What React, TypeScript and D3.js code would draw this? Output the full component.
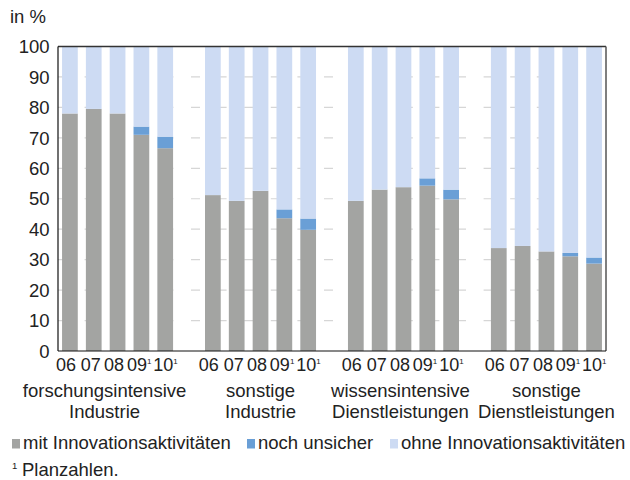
import React from "react";
import * as d3 from "d3";

const groupLabels = [
  ["forschungsintensive", "Industrie"],
  ["sonstige", "Industrie"],
  ["wissensintensive", "Dienstleistungen"],
  ["sonstige", "Dienstleistungen"],
];
const years = ["06", "07", "08", "09", "10"];
const planned = [false, false, false, true, true];

// values per group, one entry per year
const mitInnovation = [
  [78, 79.5, 78, 71, 66.6],
  [51.2, 49.3, 52.6, 43.6, 39.8],
  [49.3, 53, 53.8, 54.3, 49.8],
  [33.8, 34.5, 32.7, 31.1, 28.7],
];
const nochUnsicher = [
  [0, 0, 0, 2.7, 3.8],
  [0, 0, 0, 2.9, 3.7],
  [0, 0, 0, 2.4, 3.2],
  [0, 0, 0, 1.1, 2],
];
const ohneInnovation = [
  [22, 20.5, 22, 26.3, 29.6],
  [48.8, 50.7, 47.4, 53.5, 56.5],
  [50.7, 47, 46.2, 43.3, 47],
  [66.2, 65.5, 67.3, 67.8, 69.3],
];

const seriesKeys = ["mit", "unsicher", "ohne"];
const seriesNames = ["mit Innovationsaktivitäten", "noch unsicher", "ohne Innovationsaktivitäten"];
const colors = ["#a3a4a2", "#6a9fd6", "#cddbf3"];
const yTicks = [0, 10, 20, 30, 40, 50, 60, 70, 80, 90, 100];

const W = 630;
const H = 480;
const left = 58;
const right = 606;
const top = 46.5;
const bottom = 351;
const font = "'Liberation Sans', Arial, Helvetica, sans-serif";
const fs = 18.5;
const tickFs = 18;

type Row = { key: string; group: number; year: number; mit: number; unsicher: number; ohne: number };

const rows: Row[] = [];
const slots: string[] = [];
groupLabels.forEach((_, g) => {
  years.forEach((yr, i) => {
    const key = `${g}-${yr}`;
    slots.push(key);
    rows.push({ key, group: g, year: i, mit: mitInnovation[g][i], unsicher: nochUnsicher[g][i], ohne: ohneInnovation[g][i] });
  });
  if (g < groupLabels.length - 1) slots.push(`gap${g}`);
});

const x = d3.scaleBand<string>().domain(slots).range([left, right]).paddingInner(0.34).paddingOuter(0.17);
const y = d3.scaleLinear().domain([0, 100]).range([bottom, top]);

const stacked = d3.stack<Row>().keys(seriesKeys)(rows);

// layout tweaks
const legendX = [12, 247, 390];
const groupLabelShift = [-13, 0, -3, 0];
const tickLabelStart = [-14, -13, -13.5, -14.5, -12];

export default function App() {
  const bw = x.bandwidth();
  const groupCenter = (g: number) => {
    const a = x(`${g}-${years[0]}`)!;
    const b = x(`${g}-${years[years.length - 1]}`)! + bw;
    return (a + b) / 2;
  };

  return (
    <div style={{ position: "absolute", left: 0, top: 0 }}>
      <svg width={W} height={H} style={{ display: "block", background: "#fff" }} fontFamily={font}>
        <text x={10} y={23} fontSize={fs} fill="#222">in %</text>

        {/* dashed grid */}
        {yTicks.filter(t => t > 0 && t < 100).map(t => (
          <line key={t} x1={left} x2={right} y1={y(t)} y2={y(t)} stroke="#d6d6d6" strokeWidth={1.2} strokeDasharray="9 17.6" />
        ))}

        {/* bars */}
        {stacked.map((s, si) => (
          <g key={s.key} fill={colors[si]}>
            {s.map(d => (
              d[1] - d[0] > 0 ? (
                <rect key={d.data.key} x={x(d.data.key)} width={bw} y={y(d[1])} height={y(d[0]) - y(d[1])} />
              ) : null
            ))}
          </g>
        ))}

        {/* frame */}
        <line x1={left} x2={right} y1={top} y2={top} stroke="#333" strokeWidth={1.5} />
        <line x1={right} x2={right} y1={top} y2={bottom} stroke="#555" strokeWidth={1.5} />
        <line x1={left} x2={left} y1={top} y2={bottom} stroke="#111" strokeWidth={1.2} />
        <line x1={left} x2={right} y1={bottom} y2={bottom} stroke="#111" strokeWidth={1.2} />

        {/* y tick labels */}
        {yTicks.map(t => (
          <text key={t} x={49.5} y={y(t)} dy="0.36em" textAnchor="end" fontSize={fs} fill="#222">{t}</text>
        ))}

        {/* x tick labels */}
        {rows.map(r => {
          const cx = x(r.key)! + bw / 2;
          return (
            <text key={r.key} x={cx + tickLabelStart[r.year]} y={371} fontSize={tickFs} fill="#222">
              {years[r.year]}
              {planned[r.year] ? <tspan fontSize={8} dy={-7}>1</tspan> : null}
            </text>
          );
        })}

        {/* group labels */}
        {groupLabels.map((lines, g) => (
          <text key={g} x={groupCenter(g) + groupLabelShift[g]} y={397} textAnchor="middle" fontSize={fs} fill="#222">
            {lines.map((l, i) => (
              <tspan key={i} x={groupCenter(g) + groupLabelShift[g]} dy={i === 0 ? 0 : 21}>{l}</tspan>
            ))}
          </text>
        ))}

        {/* legend */}
        {seriesNames.map((n, i) => (
          <g key={n}>
            <rect x={legendX[i]} y={439} width={8} height={9.5} fill={colors[i]} />
            <text x={legendX[i] + 11} y={449} fontSize={fs} fill="#222">{n}</text>
          </g>
        ))}

        <text x={12} y={469} fontSize={9.5} fill="#222">1</text>
        <text x={22} y={476} fontSize={fs} fill="#222">Planzahlen.</text>
      </svg>
    </div>
  );
}
